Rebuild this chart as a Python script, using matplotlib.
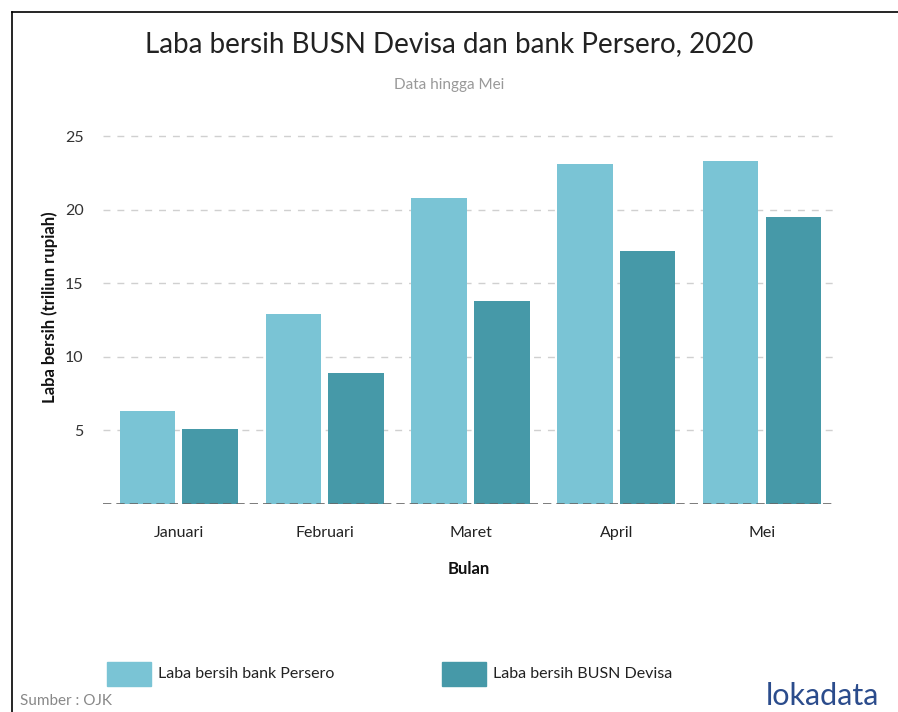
import matplotlib
matplotlib.use("Agg")
import matplotlib.pyplot as plt
import numpy as np
from matplotlib.patches import Rectangle
from matplotlib.lines import Line2D

months = ["Januari", "Februari", "Maret", "April", "Mei"]
persero = [6.3, 12.9, 20.8, 23.1, 23.3]
busn = [5.1, 8.9, 13.8, 17.2, 19.5]
series_names = ["Laba bersih bank Persero", "Laba bersih BUSN Devisa"]
yticks = [5, 10, 15, 20, 25]

c_light = "#7AC4D5"
c_dark = "#4699A8"
FONT = "Lato"

W, H = 898, 712
fig = plt.figure(figsize=(W / 100, H / 100), dpi=100)
plt.rcParams["font.family"] = [FONT, "DejaVu Sans"]

def fx(px):
    return px / W

def fy(py):
    return 1 - py / H

# screenshot border lines
fig.add_artist(Line2D([fx(12), fx(12)], [fy(12), 0], color="black", lw=1.2))
fig.add_artist(Line2D([fx(12), 1], [fy(12), fy(12)], color="black", lw=1.2))

ax = fig.add_axes([fx(103), fy(504), fx(835) - fx(103), fy(110) - fy(504)])
x = np.arange(len(months))
bw = 0.38
gap = 0.025
ax.bar(x - bw / 2 - gap, persero, width=bw, color=c_light, zorder=3, label=series_names[0])
ax.bar(x + bw / 2 + gap, busn, width=bw, color=c_dark, zorder=3, label=series_names[1])

ax.set_xlim(-0.52, len(months) - 0.5)
ax.set_ylim(0, 26.8)
ax.set_yticks(yticks)
ax.set_yticklabels([str(v) for v in yticks], fontsize=11.5, color="#333333")
ax.set_xticks(x)
ax.set_xticklabels(months, fontsize=11.5, color="#222222")
ax.tick_params(axis="y", length=0, pad=14)
ax.tick_params(axis="x", length=0, pad=16)
for s in ax.spines.values():
    s.set_visible(False)
for v in yticks:
    ax.axhline(v, color="#d0d0d0", lw=1, ls=(0, (5, 5)), zorder=1)
ax.axhline(0, color="#666666", lw=1.2, ls=(0, (5, 3)), zorder=4)

ax.set_ylabel("Laba bersih (triliun rupiah)", fontsize=12, fontweight="bold", color="#111111", labelpad=5)
ax.set_xlabel("Bulan", fontsize=12, fontweight="bold", color="#111111", labelpad=15)

fig.text(0.5, fy(44), "Laba bersih BUSN Devisa dan bank Persero, 2020", ha="center", va="center",
         fontsize=20, color="#222222")
fig.text(0.5, fy(85), "Data hingga Mei", ha="center", va="center", fontsize=11, color="#999999")

# legend
for (px0, col, name) in [(107, c_light, series_names[0]), (442, c_dark, series_names[1])]:
    fig.add_artist(Rectangle((fx(px0), fy(686)), fx(44), fy(662) - fy(686), color=col, transform=fig.transFigure))
    fig.text(fx(px0 + 51), fy(674), name, ha="left", va="center", fontsize=11.5, color="#222222")

fig.text(fx(20), fy(701), "Sumber : OJK", ha="left", va="center", fontsize=11, color="#888888")
fig.text(fx(766), fy(696), "lokadata", ha="left", va="center", fontsize=22, color="#2B4C8C")

fig.savefig("out.png", dpi=100)
